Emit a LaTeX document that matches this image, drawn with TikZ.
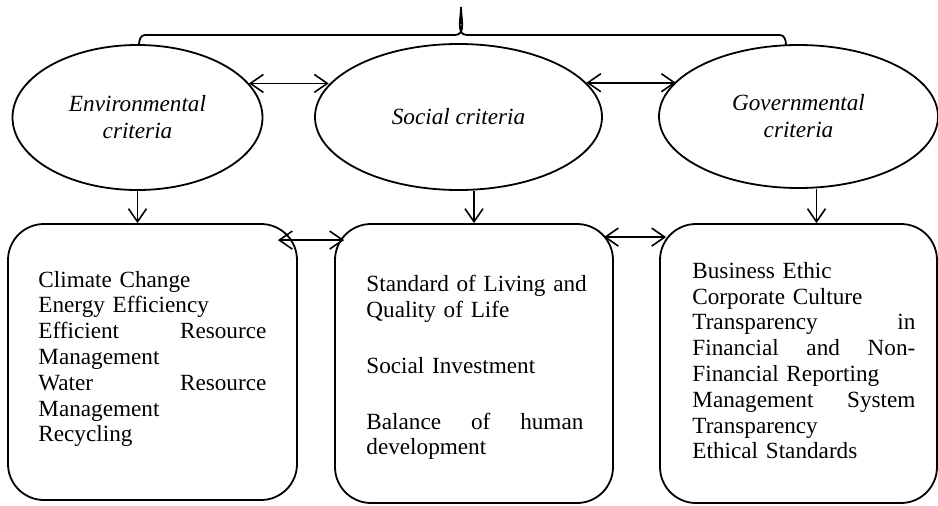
\documentclass[tikz,border=0pt]{standalone}
\usepackage{fontspec}
\setmainfont{Liberation Serif}
\usetikzlibrary{shapes.geometric}
\usetikzlibrary{arrows.meta}

\begin{document}
\begin{tikzpicture}[x=0.5pt,y=0.5pt]
	\tikzstyle{criterion}=[ellipse,draw,line width=0.9pt,inner sep=0pt,align=center,font=\fontsize{11.6pt}{13.5pt}\selectfont\itshape]
	\tikzstyle{item box}=[draw,line width=0.9pt,rounded corners=18pt,inner sep=0pt]
	\tikzstyle{item text}=[inner sep=0pt,align=left,anchor=base west,font=\fontsize{11.6pt}{12.9pt}\selectfont]
	\tikzstyle{link}=[-{Straight Barb[length=6.5pt,width=9pt]},line width=0.8pt]
	\tikzstyle{double link}=[{Straight Barb[length=6.5pt,width=9pt]}-{Straight Barb[length=6.5pt,width=9pt]},line width=0.8pt]

	\useasboundingbox (0,0) rectangle (938,505);

	% criteria
	\node[criterion,minimum width=125pt,minimum height=72.5pt] (env) at (137.5,387.5) {Environmental\\criteria};
	\node[criterion,minimum width=143.5pt,minimum height=73pt] (soc) at (458.5,388) {Social criteria};
	\node[criterion,minimum width=139.5pt,minimum height=71.5pt] (gov) at (798.5,388.5) {Governmental\\criteria};

	% boxes
	\node[item box,minimum width=144.5pt,minimum height=138pt] (envbox) at (152.5,143) {};
	\node[item box,minimum width=139pt,minimum height=139.5pt] (socbox) at (474,141.5) {};
	\node[item box,minimum width=138.5pt,minimum height=139.5pt] (govbox) at (798.5,141.5) {};

	\node[item text,text width=114pt] (envtxt) at (38,218) {Climate Change\\Energy Efficiency\\Efficient\hfill Resource\\Management\\Water\hfill Resource\\Management\\Recycling};
	\node[item text,text width=108.5pt] (soctxt) at (366,213.3) {\makebox[\linewidth][s]{Standard of Living and}\\Quality of Life\\[15pt]Social Investment\\[15pt]Balance\hfill of\hfill human\\development};
	\node[item text,text width=111.5pt] (govtxt) at (692,226.7) {Business Ethic\\Corporate Culture\\Transparency\hfill in\\Financial\hfill and\hfill Non-\\Financial Reporting\\Management\hfill System\\Transparency\\Ethical Standards};

	% brace
	\draw[line width=0.9pt] (139,460) to[out=90,in=180] (145,470) -- (455,470) to[out=0,in=-90] (461,498) to[out=-90,in=180] (467,470) -- (780,470) to[out=0,in=90] (786,460);

	% arrows
	\draw[double link] (env.17) -- (env.17 -| soc.166);
	\draw[double link] (soc.15) -- (soc.15 -| gov.164);
	\draw[link] (env.south) -- (env.south |- envbox.north);
	\draw[link] (soc.south -| socbox.north) -- (socbox.north);
	\draw[link] ([xshift=9pt]gov.south) -- ([xshift=9pt]gov.south |- govbox.north);
	\draw[double link] ([shift={(-10pt,-8.5pt)}]envbox.north east) -- ([shift={(5pt,-8.5pt)}]socbox.north west);
	\draw[double link] ([shift={(-5pt,-7pt)}]socbox.north east) -- ([shift={(3.5pt,-7pt)}]govbox.north west);
\end{tikzpicture}
\end{document}
